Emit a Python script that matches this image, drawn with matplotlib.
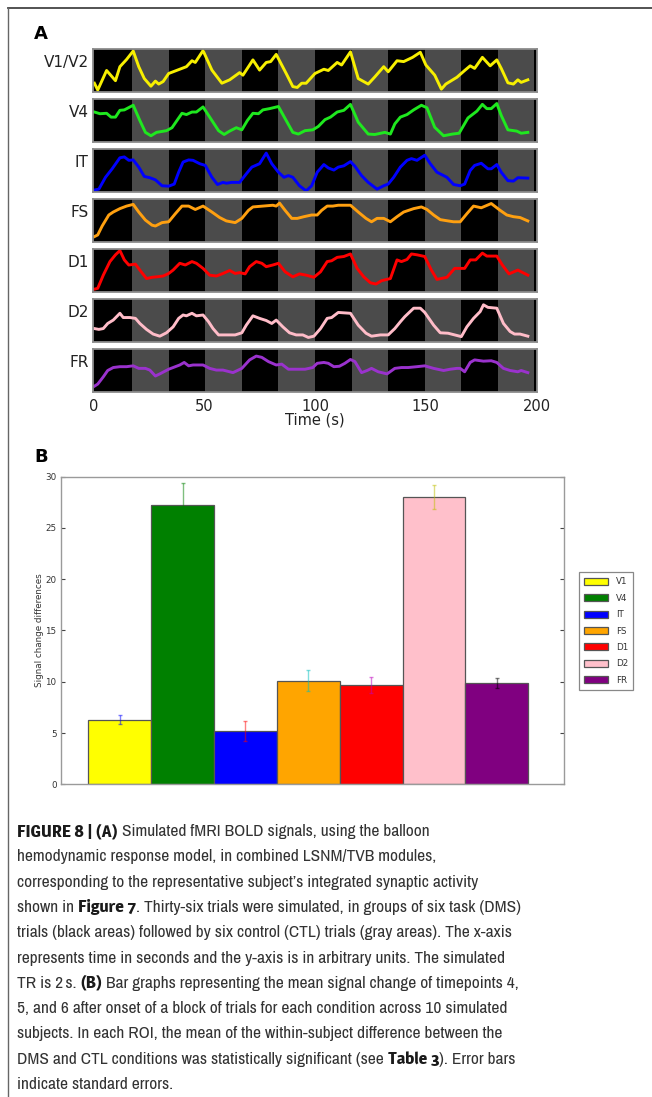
import matplotlib
matplotlib.use('Agg')
import matplotlib.pyplot as plt
from matplotlib import font_manager
from matplotlib.lines import Line2D
import numpy as np

W, H = 652, 1097

# ---- panel A: simulated BOLD time courses (arbitrary units, 0..1 per row) ----
regions = ['V1/V2', 'V4', 'IT', 'FS', 'D1', 'D2', 'FR']
trace_colors = ['#f7ef00', '#1fe81f', '#0000ff', '#ffa010', '#ff0000', '#ffbcc8', '#9a32cd']

v1_t = [0.5, 2, 6, 10, 12, 15, 18, 20.5, 23, 26, 28, 29.5, 31.5, 34, 37.5, 42, 44.5, 46, 49.5, 53.5,
        58, 61.5, 66, 67.5, 72, 75, 78, 80, 82.5, 87, 90, 92, 94, 96, 100, 104, 106, 110, 112, 116,
        119.5, 124, 127, 131, 133, 137, 140, 144, 147.5, 150, 154, 157, 159, 164, 167.5, 170, 172, 175.5,
        179, 182, 184, 187, 189.5, 191.5, 193, 196]
v1_y = [0.20, 0.04, 0.50, 0.26, 0.59, 0.76, 0.96, 0.59, 0.31, 0.13, 0.25, 0.18, 0.24, 0.43, 0.50, 0.59,
        0.73, 0.69, 0.97, 0.51, 0.20, 0.28, 0.45, 0.39, 0.75, 0.51, 0.69, 0.71, 0.88, 0.43, 0.12, 0.10,
        0.20, 0.20, 0.43, 0.53, 0.50, 0.69, 0.63, 0.94, 0.31, 0.18, 0.35, 0.59, 0.47, 0.73, 0.71, 0.81,
        0.93, 0.63, 0.39, 0.06, 0.18, 0.34, 0.50, 0.61, 0.55, 0.81, 0.61, 0.75, 0.55, 0.21, 0.18, 0.28,
        0.22, 0.28]

v4_t = [0.5, 3, 6, 8, 10, 12, 14, 18, 21, 23.5, 26, 28.5, 33, 35.5, 38, 40, 42, 44.5, 46.5, 49.5,
        53.5, 56.5, 59, 61.5, 64.5, 67, 69.5, 72, 74.5, 76.5, 79.5, 83.5, 87, 90, 92.5, 95.5, 99, 101.5,
        104.5, 107, 110, 113, 116, 119.5, 124, 127, 131.5, 134, 136, 138.5, 141.5, 144.5, 148, 150.5,
        154, 158, 162, 165, 169, 173, 175.5, 177.5, 179.5, 182, 184, 187, 191, 193, 196]
v4_y = [0.70, 0.66, 0.67, 0.58, 0.58, 0.74, 0.75, 0.86, 0.50, 0.22, 0.14, 0.22, 0.26, 0.33, 0.52, 0.67,
        0.64, 0.70, 0.70, 0.82, 0.50, 0.26, 0.17, 0.25, 0.33, 0.28, 0.50, 0.67, 0.66, 0.75, 0.78, 0.83,
        0.50, 0.22, 0.18, 0.26, 0.28, 0.36, 0.52, 0.58, 0.70, 0.74, 0.88, 0.46, 0.18, 0.17, 0.22, 0.18,
        0.42, 0.58, 0.64, 0.75, 0.86, 0.80, 0.34, 0.14, 0.18, 0.20, 0.56, 0.72, 0.88, 0.78, 0.78, 0.90,
        0.62, 0.28, 0.25, 0.20, 0.22]

it_t = [0.5, 2.5, 5.5, 8.5, 12, 14, 16, 18, 20.5, 23, 25.5, 28, 31, 34, 36.5, 38.5, 40.5, 43, 45, 48,
        50.5, 53.5, 56, 58.5, 60, 62.5, 66, 69, 71.5, 75, 78, 80.5, 83.5, 86, 88, 90, 93, 96, 98.5, 101,
        104, 106, 108.5, 110.5, 113, 116, 118, 121, 124, 128, 131, 133, 135.5, 138.5, 141.5, 143.5, 146,
        149.5, 152, 155, 159.5, 162.5, 165.5, 167.5, 170, 172, 175, 178, 179.5, 182, 184, 187, 189.5,
        191.5, 196]
it_y = [0.04, 0.06, 0.34, 0.54, 0.80, 0.82, 0.74, 0.75, 0.58, 0.36, 0.33, 0.28, 0.14, 0.13, 0.18, 0.46,
        0.70, 0.75, 0.74, 0.66, 0.62, 0.34, 0.17, 0.22, 0.20, 0.22, 0.22, 0.42, 0.58, 0.66, 0.91, 0.66,
        0.46, 0.34, 0.38, 0.34, 0.14, 0.02, 0.14, 0.46, 0.64, 0.56, 0.51, 0.58, 0.61, 0.71, 0.60, 0.38,
        0.22, 0.06, 0.14, 0.18, 0.34, 0.58, 0.74, 0.78, 0.74, 0.86, 0.66, 0.46, 0.34, 0.17, 0.14, 0.18,
        0.50, 0.62, 0.67, 0.54, 0.54, 0.64, 0.46, 0.26, 0.25, 0.33, 0.32]

fs_t = [0.5, 2, 4, 7, 9, 12, 15, 18, 20.5, 23.5, 26.5, 28, 31, 34, 37, 40, 43, 46, 49.5, 53.5,
        57, 60, 64, 67, 70, 72, 76.5, 81, 82.5, 84, 86.5, 89.5, 92, 95, 98.5, 101, 103, 105.5, 108, 110.5,
        116, 119.5, 123, 125.5, 128, 131, 134, 137, 140, 144.5, 148, 150.5, 153.5, 156.5, 160, 162.5,
        165.5, 168.5, 171.5, 175, 179.5, 183.5, 186.5, 189.5, 192.5, 196]
fs_y = [0.12, 0.16, 0.37, 0.63, 0.70, 0.78, 0.84, 0.88, 0.70, 0.51, 0.39, 0.37, 0.45, 0.47, 0.66, 0.84,
        0.84, 0.76, 0.84, 0.70, 0.57, 0.49, 0.45, 0.55, 0.74, 0.82, 0.84, 0.86, 0.84, 0.91, 0.74, 0.55,
        0.55, 0.59, 0.63, 0.63, 0.74, 0.84, 0.84, 0.86, 0.86, 0.70, 0.55, 0.47, 0.55, 0.55, 0.47, 0.59,
        0.70, 0.78, 0.82, 0.76, 0.63, 0.52, 0.49, 0.47, 0.47, 0.66, 0.84, 0.80, 0.90, 0.74, 0.63, 0.59,
        0.57, 0.49]

d1_t = [0.5, 2, 4.5, 7.5, 10, 12, 14, 16, 19, 21, 24, 26.5, 28.5, 31.5, 34, 36, 39, 41.5, 44.5, 46.5,
        49.5, 52.5, 55.5, 58.5, 61.5, 64, 66, 68.5, 70.5, 73.5, 76, 78, 81, 83.5, 86.5, 90, 93, 96, 99.5,
        102.5, 105.5, 107.5, 110, 113, 116, 119, 122, 125, 127.5, 130, 134, 137, 139, 141.5, 143.5, 146,
        149.5, 152.5, 155, 159.5, 163, 165.5, 167.5, 170, 172.5, 175.5, 177.5, 179.5, 182, 184.5, 187.5,
        191.5, 196]
d1_y = [0.06, 0.08, 0.39, 0.71, 0.87, 0.97, 0.75, 0.63, 0.65, 0.51, 0.31, 0.34, 0.35, 0.37, 0.43, 0.51,
        0.67, 0.63, 0.71, 0.67, 0.55, 0.39, 0.37, 0.43, 0.50, 0.43, 0.45, 0.42, 0.59, 0.71, 0.67, 0.59,
        0.63, 0.67, 0.47, 0.35, 0.42, 0.39, 0.34, 0.47, 0.71, 0.73, 0.81, 0.83, 0.89, 0.55, 0.35, 0.21,
        0.18, 0.26, 0.31, 0.75, 0.71, 0.76, 0.89, 0.87, 0.83, 0.51, 0.29, 0.34, 0.55, 0.55, 0.55, 0.75,
        0.75, 0.91, 0.84, 0.84, 0.84, 0.63, 0.42, 0.51, 0.39]

d2_t = [0.5, 2.5, 4.5, 6.5, 9, 12, 13.5, 16.5, 19, 21, 24, 27, 30, 33, 36, 38.5, 40.5, 42, 44.5, 46.5,
        49.5, 52, 54, 56.5, 60, 64, 67, 69, 72, 75, 78, 80.5, 82.5, 85.5, 88.5, 91.5, 94.5, 97, 99.5,
        102.5, 105.5, 107.5, 110.5, 116, 119.5, 123, 125.5, 129.5, 133, 136, 138.5, 140.5, 144.5, 147.5,
        149.5, 153.5, 156.5, 160, 163, 166, 168.5, 171.5, 174.5, 176, 178, 182, 185, 188, 190, 192.5, 196]
d2_y = [0.31, 0.29, 0.31, 0.43, 0.51, 0.67, 0.57, 0.57, 0.55, 0.43, 0.29, 0.18, 0.13, 0.21, 0.35, 0.55,
        0.63, 0.61, 0.67, 0.61, 0.63, 0.47, 0.31, 0.16, 0.16, 0.16, 0.21, 0.39, 0.61, 0.55, 0.50, 0.43,
        0.51, 0.35, 0.21, 0.16, 0.16, 0.10, 0.13, 0.31, 0.55, 0.57, 0.69, 0.67, 0.39, 0.20, 0.13, 0.16,
        0.16, 0.31, 0.47, 0.59, 0.79, 0.79, 0.69, 0.39, 0.21, 0.20, 0.16, 0.12, 0.35, 0.55, 0.71, 0.87,
        0.81, 0.79, 0.43, 0.24, 0.18, 0.18, 0.13]

fr_t = [0.5, 2, 4.5, 6.5, 9, 12, 15, 18, 20.5, 23.5, 25.5, 28, 30, 34, 37, 39, 41, 43, 45, 49.5,
        52.5, 55.5, 58.5, 63, 67, 70.5, 73.5, 76, 79, 82.5, 85, 88, 91.5, 95.5, 99, 101, 104, 106, 108.5,
        111, 113.5, 116, 118, 121, 123.5, 125.5, 128.5, 132.5, 136, 139, 142, 146, 149.5, 153.5, 158, 161,
        164, 165.5, 167.5, 170, 172, 176, 179.5, 182, 185, 188, 191.5, 193, 196]
fr_y = [0.13, 0.18, 0.35, 0.50, 0.57, 0.59, 0.59, 0.61, 0.55, 0.55, 0.51, 0.37, 0.42, 0.53, 0.59, 0.63,
        0.69, 0.61, 0.63, 0.63, 0.55, 0.51, 0.51, 0.45, 0.55, 0.75, 0.84, 0.81, 0.71, 0.63, 0.65, 0.53,
        0.53, 0.53, 0.57, 0.67, 0.69, 0.67, 0.59, 0.60, 0.67, 0.76, 0.71, 0.45, 0.50, 0.55, 0.47, 0.42,
        0.55, 0.57, 0.57, 0.59, 0.61, 0.55, 0.50, 0.53, 0.55, 0.55, 0.47, 0.69, 0.75, 0.72, 0.73, 0.69,
        0.55, 0.50, 0.47, 0.50, 0.45]

traces_t = [v1_t, v4_t, it_t, fs_t, d1_t, d2_t, fr_t]
traces_y = [v1_y, v4_y, it_y, fs_y, d1_y, d2_y, fr_y]

# task (black) / control (gray) block boundaries in seconds
block_edges = [0, 17.5, 34, 50.5, 67, 83.5, 100, 116.5, 133, 149.5, 166, 182.5, 199]
time_ticks = [0, 50, 100, 150, 200]

# ---- panel B: mean signal change differences ----
bar_labels = ['V1', 'V4', 'IT', 'FS', 'D1', 'D2', 'FR']
bar_means = [6.3, 27.2, 5.2, 10.1, 9.7, 28.0, 9.85]
bar_errs = [0.45, 2.2, 1.0, 1.0, 0.75, 1.15, 0.5]
bar_colors = ['yellow', 'green', 'blue', 'orange', 'red', 'pink', 'purple']
err_colors = ['b', 'g', 'r', 'c', 'm', 'y', 'k']

# ---- caption, (text, bold) runs per line ----
caption = [
    [('FIGURE 8 | (A)', True), (' Simulated fMRI BOLD signals, using the balloon', False)],
    [('hemodynamic response model, in combined LSNM/TVB modules,', False)],
    [('corresponding to the representative subject\u2019s integrated synaptic activity', False)],
    [('shown in ', False), ('Figure 7', True),
     ('. Thirty-six trials were simulated, in groups of six task (DMS)', False)],
    [('trials (black areas) followed by six control (CTL) trials (gray areas). The x-axis', False)],
    [('represents time in seconds and the y-axis is in arbitrary units. The simulated', False)],
    [('TR is 2\u2009s. ', False), ('(B)', True),
     (' Bar graphs representing the mean signal change of timepoints 4,', False)],
    [('5, and 6 after onset of a block of trials for each condition across 10 simulated', False)],
    [('subjects. In each ROI, the mean of the within-subject difference between the', False)],
    [('DMS and CTL conditions was statistically significant (see ', False), ('Table 3', True),
     ('). Error bars', False)],
    [('indicate standard errors.', False)],
]


def px_rect(left, top, right, bottom):
    return [left / W, 1 - bottom / H, (right - left) / W, (bottom - top) / H]


def font_weights():
    weights = {}
    for f in font_manager.fontManager.ttflist:
        w = f.weight if isinstance(f.weight, int) else font_manager.weight_dict.get(f.weight, 400)
        weights.setdefault(f.name, set()).add(w)
    return weights


def regular_face(weights):
    narrow = [n for n in sorted(weights)
              if ('Narrow' in n or 'Condensed' in n) and 'Mono' not in n and 'Serif' not in n
              and min(weights[n]) <= 450]
    return narrow[0] if narrow else 'Liberation Sans'


def text_width(fig, renderer, text, size, family, weight):
    probe = fig.text(0, 0, text + '|', fontsize=size, family=[family, 'DejaVu Sans'], fontweight=weight)
    bar = fig.text(0, 0, '|', fontsize=size, family=[family, 'DejaVu Sans'], fontweight=weight)
    w = probe.get_window_extent(renderer).width - bar.get_window_extent(renderer).width
    probe.remove()
    bar.remove()
    return w


def draw_traces(fig):
    for i, (name, color) in enumerate(zip(regions, trace_colors)):
        top = 49.3 + 50 * i
        ax = fig.add_axes(px_rect(93.3, top, 536.7, top + 42.4))
        ax.set_facecolor('black')
        for k in range(1, len(block_edges) - 1, 2):
            ax.axvspan(block_edges[k], block_edges[k + 1], color='#4b4b4b', lw=0)
        ax.plot(traces_t[i], traces_y[i], color=color, lw=2.1, solid_joinstyle='round')
        ax.set_xlim(0, 200)
        ax.set_ylim(0, 1)
        ax.set_yticks([])
        for sp in ax.spines.values():
            sp.set_color('#8c8c8c')
            sp.set_linewidth(1.3)
        if i == len(regions) - 1:
            ax.set_xticks(time_ticks)
            ax.tick_params(axis='x', length=0, pad=5, labelsize=10.5, labelcolor='#222')
        else:
            ax.set_xticks([])
        fig.text(88.5 / W, 1 - (top + 13.5) / H, name, ha='right', va='center',
                 fontsize=11, color='#222')
    fig.text(315 / W, 1 - 420 / H, 'Time (s)', ha='center', va='center',
             fontsize=10.5, color='#222')


def draw_bars(fig):
    ax = fig.add_axes(px_rect(60.7, 476.7, 564, 784.3))
    x = np.arange(len(bar_labels))
    bars = ax.bar(x, bar_means, width=1, align='edge', color=bar_colors,
                  edgecolor='#555555', linewidth=0.9)
    for xi, m, e, ec in zip(x, bar_means, bar_errs, err_colors):
        ax.errorbar(xi + 0.5, m, yerr=e, fmt='none', ecolor=ec, alpha=0.5,
                    elinewidth=1.0, capsize=1.5, capthick=1.0)
    ax.set_xlim(-0.44, 7.57)
    ax.set_ylim(0, 30)
    ax.set_yticks(range(0, 31, 5))
    ax.set_xticks([])
    ax.tick_params(axis='y', direction='in', left=True, right=True, length=3,
                   labelsize=6.3, colors='#444', labelcolor='#333', pad=3)
    for sp in ax.spines.values():
        sp.set_color('#9a9a9a')
        sp.set_linewidth(1.0)
    ax.set_ylabel('Signal change differences', fontsize=6.3, color='#333', labelpad=1)
    leg = ax.legend(bars.patches, bar_labels, loc='upper left',
                    bbox_to_anchor=(579 / W, 1 - 572 / H), bbox_transform=fig.transFigure,
                    borderaxespad=0, fontsize=6.3, fancybox=False, handlelength=2.7,
                    handleheight=0.85, labelspacing=0.85, handletextpad=0.9,
                    borderpad=0.6, framealpha=1)
    leg.get_frame().set_edgecolor('#888888')
    leg.get_frame().set_linewidth(0.9)
    for t in leg.get_texts():
        t.set_color('#333')


def draw_caption(fig):
    renderer = fig.canvas.get_renderer()
    weights = font_weights()
    reg = regular_face(weights)

    # font size from the longest line, set in the regular face
    base = 12.0
    widest = max(text_width(fig, renderer, ''.join(s for s, b in line), base, reg, 'normal')
                 for line in caption)
    size = min(12.5, base * 499.0 / widest)

    # bold face: the heavy sans whose 'Figure 7' comes closest to ~58 px
    candidates = [n for n in sorted(weights)
                  if max(weights[n]) >= 600 and 'Mono' not in n and 'Serif' not in n
                  and 'CJK' not in n and 'Math' not in n]
    bold = min(candidates or ['DejaVu Sans'],
               key=lambda n: abs(text_width(fig, renderer, 'Figure 7', size, n, 'bold') - 58))

    faces = {False: (reg, 'normal'), True: (bold, 'bold')}
    for i, line in enumerate(caption):
        x = 17.0
        y = 831.5 + 25.3 * i
        for seg, is_bold in line:
            fam, wt = faces[is_bold]
            fig.text(x / W, 1 - y / H, seg, fontsize=size, family=[fam, 'DejaVu Sans'],
                     fontweight=wt, color='#1a1a1a' if is_bold else '#333333',
                     ha='left', va='center')
            x += text_width(fig, renderer, seg, size, fam, wt)


def main():
    fig = plt.figure(figsize=(W / 100, H / 100), dpi=100)
    fig.patch.set_facecolor('white')

    # outer frame: top and left rules
    fig.add_artist(Line2D([8 / W, 1], [1 - 8 / H, 1 - 8 / H], color='#444', lw=1.3))
    fig.add_artist(Line2D([8 / W, 8 / W], [0, 1 - 8 / H], color='#666', lw=1.0))

    fig.text(34 / W, 1 - 34 / H, 'A', fontsize=13, fontweight='bold', va='center', ha='left')
    fig.text(34 / W, 1 - 457 / H, 'B', fontsize=13, fontweight='bold', va='center', ha='left')

    draw_traces(fig)
    draw_bars(fig)
    draw_caption(fig)

    fig.savefig('out.png', dpi=100)


if __name__ == "__main__": main()
